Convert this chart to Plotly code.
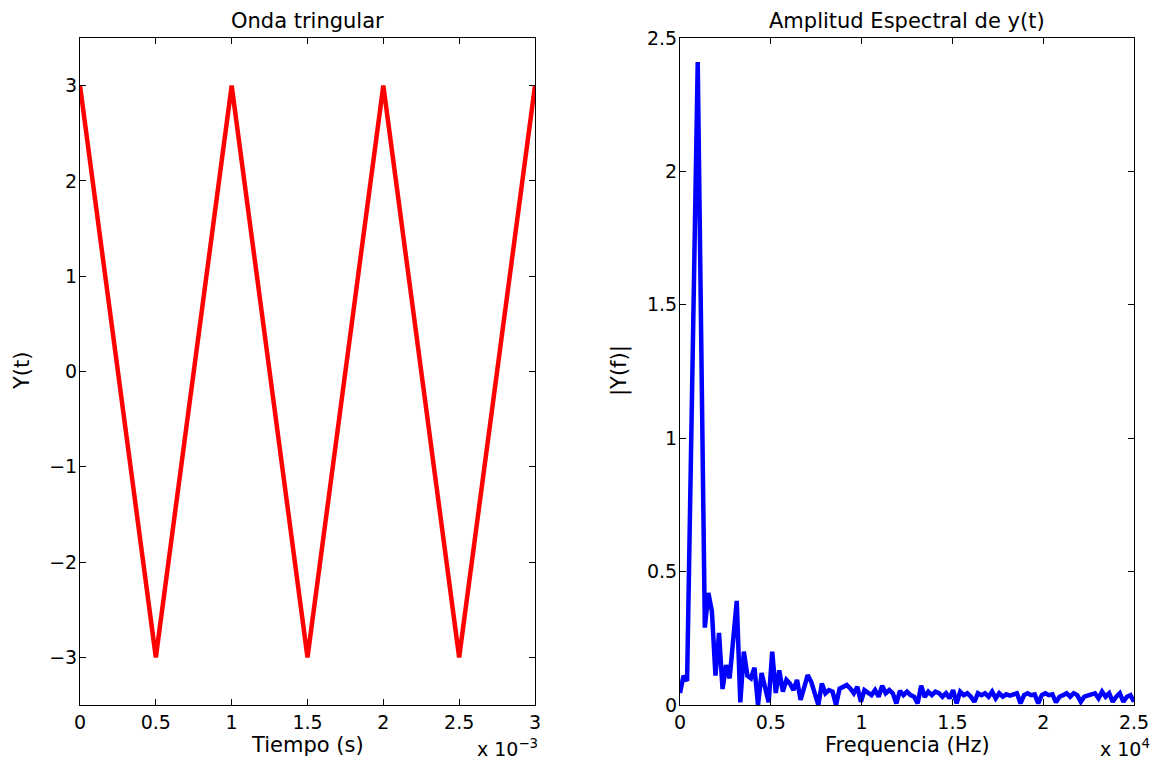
import numpy as np
import plotly.graph_objects as go

# ---- data ----
t_s = [0, 0.5e-3, 1.0e-3, 1.5e-3, 2.0e-3, 2.5e-3, 3.0e-3]
y_tri = [3, -3, 3, -3, 3, -3, 3]

f_hz = np.linspace(0, 25000, 129)
amp = [
    0.045, 0.11, 0.09, 0.86, 1.64, 2.41, 1.35, 0.29, 0.42, 0.35,
    0.11, 0.27, 0.06, 0.15, 0.10, 0.24, 0.39, 0.01, 0.20, 0.11,
    0.10, 0.14, 0.00, 0.12, 0.06, 0.01, 0.20, 0.045, 0.13, 0.05,
    0.094, 0.08, 0.056, 0.094, 0.019, 0.068, 0.112, 0.087, 0.044, 0.0,
    0.081, 0.044, 0.056, 0.05, 0.0, 0.062, 0.068, 0.075, 0.062, 0.044,
    0.068, 0.012, 0.056, 0.044, 0.037, 0.056, 0.031, 0.072, 0.044, 0.056,
    0.044, 0.006, 0.053, 0.037, 0.05, 0.037, 0.031, 0.006, 0.072, 0.03,
    0.05, 0.037, 0.05, 0.044, 0.031, 0.044, 0.025, 0.056, 0.006, 0.05,
    0.037, 0.044, 0.031, 0.012, 0.044, 0.037, 0.044, 0.031, 0.05, 0.025,
    0.044, 0.031, 0.04, 0.035, 0.04, 0.044, 0.006, 0.037, 0.044, 0.037,
    0.04, 0.006, 0.037, 0.044, 0.037, 0.04, 0.01, 0.031, 0.037, 0.044,
    0.031, 0.044, 0.037, 0.012, 0.031, 0.037, 0.04, 0.044, 0.025, 0.05,
    0.031, 0.044, 0.012, 0.031, 0.044, 0.012, 0.031, 0.037, 0.012,
]

t_ticks = [0, 0.5e-3, 1e-3, 1.5e-3, 2e-3, 2.5e-3, 3e-3]
t_ticktext = ["0", "0.5", "1", "1.5", "2", "2.5", "3"]
y1_ticks = [-3, -2, -1, 0, 1, 2, 3]
y1_ticktext = ["\u22123", "\u22122", "\u22121", "0", "1", "2", "3"]
f_ticks = [0, 5000, 10000, 15000, 20000, 25000]
f_ticktext = ["0", "0.5", "1", "1.5", "2", "2.5"]
y2_ticks = [0, 0.5, 1, 1.5, 2, 2.5]
y2_ticktext = ["0", "0.5", "1", "1.5", "2", "2.5"]

FONT = "DejaVu Sans, Liberation Sans, Arial, sans-serif"
FS_TICK = 19
FS_TEXT = 21

fig = go.Figure()
fig.add_trace(go.Scatter(x=t_s, y=y_tri, mode="lines",
                         line=dict(color="#ff0000", width=4.5),
                         xaxis="x", yaxis="y", showlegend=False))
fig.add_trace(go.Scatter(x=f_hz, y=amp, mode="lines",
                         line=dict(color="#0000ff", width=4.5),
                         xaxis="x2", yaxis="y2", showlegend=False))

# page has an 8px body margin, so the figure is drawn 8px smaller and
# all target page positions are shifted by OFF
OFF = 8
W, H = 1160 - OFF, 770 - OFF
L1, R1 = 80 - OFF, 535 - OFF
L2, R2 = 680 - OFF, 1134 - OFF
TOP, BOT = 38 - OFF, 705 - OFF

axis_common = dict(showline=True, linecolor="black", linewidth=1, mirror="ticks",
                   ticks="inside", ticklen=6, tickcolor="black", tickwidth=1,
                   showgrid=False, zeroline=False, automargin=False,
                   tickfont=dict(family=FONT, size=FS_TICK, color="black"))

fig.update_layout(
    width=W, height=H,
    margin=dict(l=0, r=0, t=0, b=0, autoexpand=False),
    paper_bgcolor="white", plot_bgcolor="white",
    font=dict(family=FONT, size=FS_TICK, color="black"),
    xaxis=dict(domain=[L1 / W, R1 / W], range=[0, 3e-3], tickvals=t_ticks,
               ticktext=t_ticktext, anchor="y", **axis_common),
    yaxis=dict(domain=[1 - BOT / H, 1 - TOP / H], range=[-3.5, 3.5],
               tickvals=y1_ticks, ticktext=y1_ticktext, anchor="x",
               ticklabelstandoff=-2, **axis_common),
    xaxis2=dict(domain=[L2 / W, R2 / W], range=[0, 25000], tickvals=f_ticks,
                ticktext=f_ticktext, anchor="y2", **axis_common),
    yaxis2=dict(domain=[1 - BOT / H, 1 - TOP / H], range=[0, 2.5],
                tickvals=y2_ticks, ticktext=y2_ticktext, anchor="x2",
                ticklabelstandoff=-2, **axis_common),
)

def ann(text, x, y, angle=0, xanchor="center", yanchor="middle", size=FS_TEXT):
    fig.add_annotation(text=text, x=(x - OFF) / W, y=1 - (y - OFF) / H,
                       xref="paper", yref="paper",
                       showarrow=False, textangle=angle, xanchor=xanchor,
                       yanchor=yanchor, font=dict(family=FONT, size=size, color="black"))

ann("Onda tringular", 307, 21, size=21)
ann("Amplitud Espectral de y(t)", 907, 21, size=21)
ann("Tiempo (s)", 307, 745)
ann("Frequencia (Hz)", 907, 745)
ann("Y(t)", 22, 371, angle=-90)
ann("|Y(f)|", 619, 371, angle=-90)
ann("x 10<sup>\u22123</sup>", 540, 748, xanchor="right", size=FS_TICK)
ann("x 10<sup>4</sup>", 1152, 748, xanchor="right", size=FS_TICK)

fig.write_html("out.html")
